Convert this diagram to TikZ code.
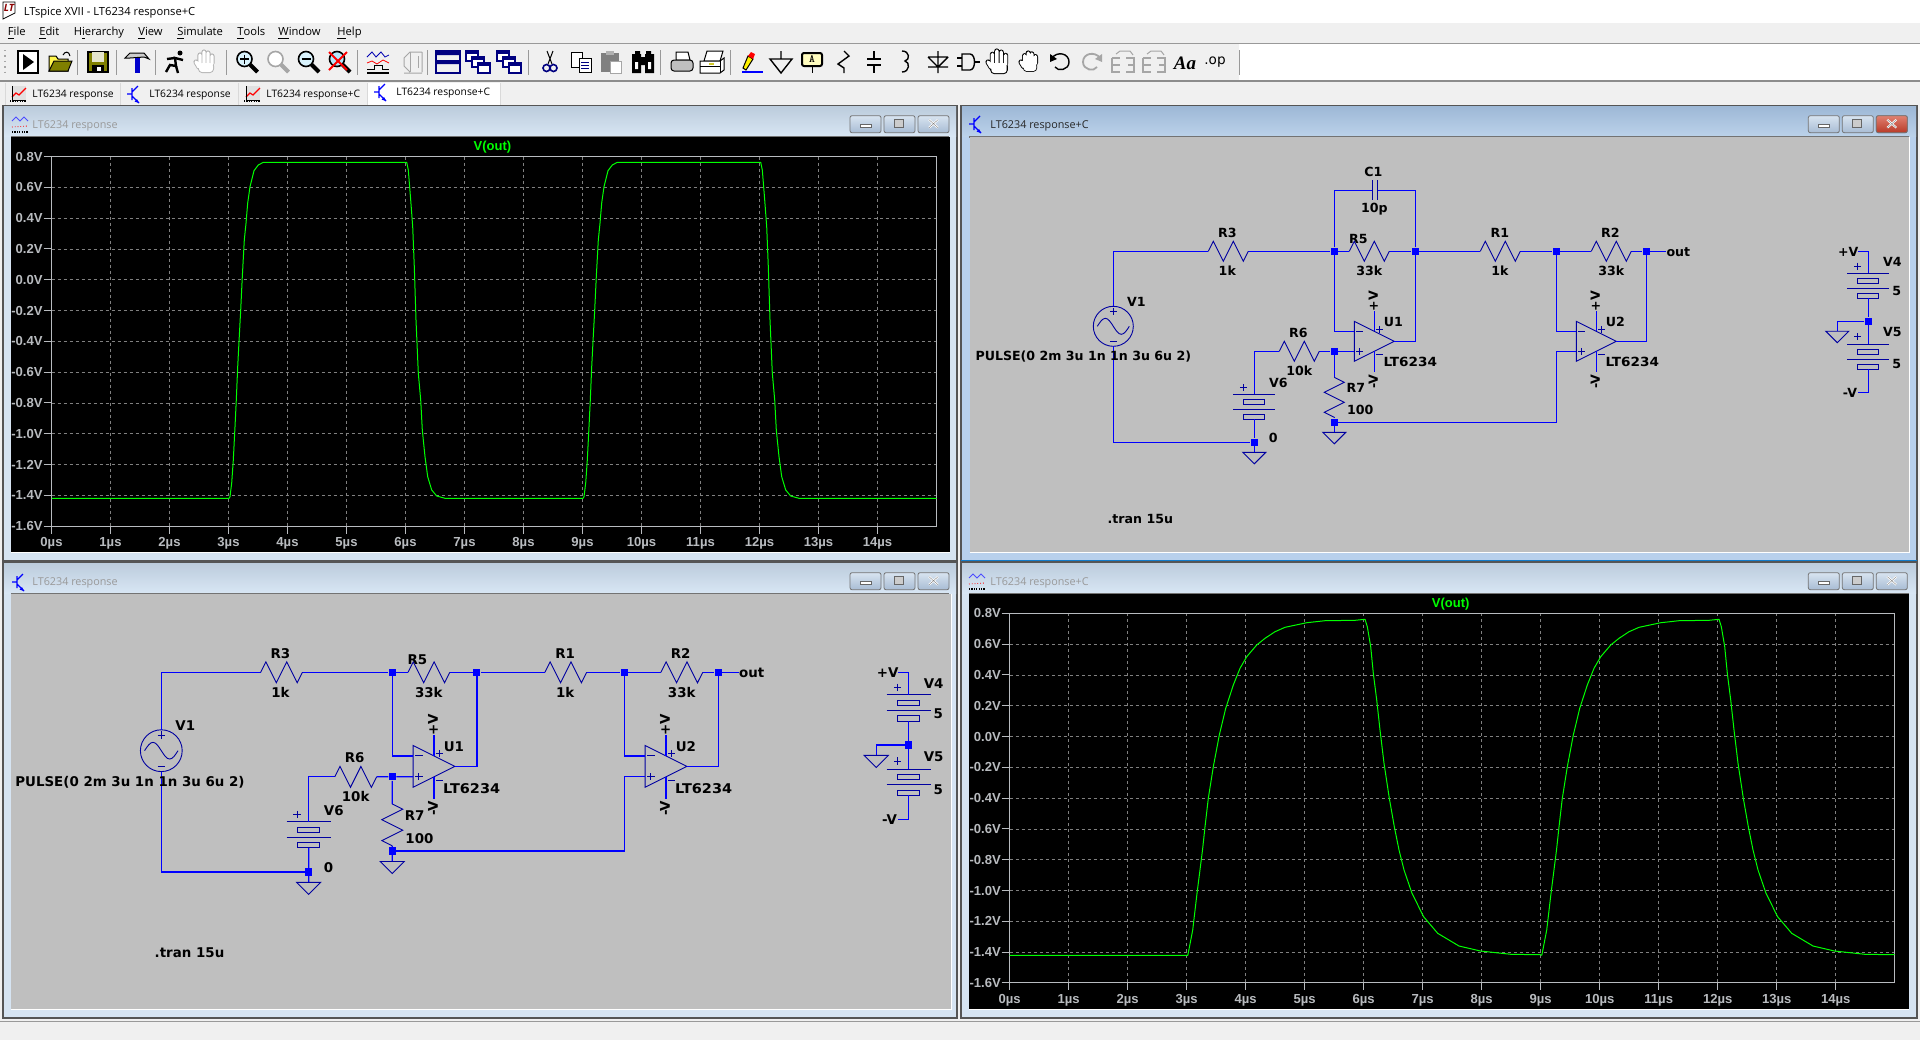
\documentclass[tikz,border=0pt]{standalone}
\usepackage{fontspec}
\setmainfont{Open Sans}
\newfontfamily\schfont{DejaVu Sans}
\newfontfamily\axisfont{Liberation Sans}
\newfontfamily\serifui{Liberation Serif}
\definecolor{wireblue}{HTML}{0000FF}
\definecolor{partblue}{HTML}{0000A0}
\definecolor{schgrey}{HTML}{BFBFBF}
\definecolor{axisgrey}{HTML}{B8BBBF}
\definecolor{barback}{HTML}{F0F0F0}
\definecolor{tracegreen}{HTML}{00FF00}
\definecolor{winedge}{HTML}{555555}
\definecolor{iconolive}{HTML}{808000}
\definecolor{idletop}{HTML}{BCCCDC}
\definecolor{idlebot}{HTML}{D8E6F4}
\definecolor{idleside}{HTML}{D6E4F2}
\definecolor{livetop}{HTML}{9DB8D6}
\definecolor{livebot}{HTML}{BCD2EA}
\definecolor{liveside}{HTML}{B8D0EC}
\definecolor{btntop}{HTML}{D8E4F0}
\definecolor{btnbot}{HTML}{A8BCD4}
\definecolor{closetop}{HTML}{E08070}
\definecolor{closebot}{HTML}{B83A28}
\newcommand{\schsize}{6.3}
\tikzset{
  wire/.style={wireblue,line width=0.6pt},
  part/.style={partblue,line width=0.45pt},
  dot/.style={rectangle,fill=wireblue,minimum size=3.6pt,inner sep=0pt},
  lbl/.style={inner sep=0pt,font=\schfont\bfseries\fontsize{\schsize}{\schsize}\selectfont},
  axlbl/.style={inner sep=0pt,text=axisgrey,font=\axisfont\bfseries\fontsize{6.55}{7}\selectfont},
  axline/.style={color=axisgrey,line width=0.5pt},
  griddash/.style={color=black!50,line width=0.4pt,dash pattern=on 1.5pt off 1.5pt},
  trace/.style={tracegreen,line width=0.5pt,line join=round},
  uitext/.style={inner sep=0pt,anchor=west,font=\fontsize{5.6}{7}\selectfont},
  tabtext/.style={inner sep=0pt,anchor=west,font=\fontsize{5.15}{7}\selectfont},
  wintext/.style={inner sep=0pt,anchor=west,font=\fontsize{5.4}{7}\selectfont},
  btn/.style={draw=black!55,line width=0.4pt,rounded corners=1pt},
  sep/.style={color=black!40,line width=0.5pt},
  ic/.style={line width=0.5pt,draw=black},
  icgrey/.style={line width=0.5pt,draw=black!35},
}
% one schematic pane, coordinates are screen pixels from the V1 wire
\newcommand{\zigh}[2]{\draw [part] (#1) -- ++(5,-10) -- ++(10,20) -- ++(10,-20) -- ++(10,20) -- (#2);}
\newcommand{\gndsym}[1]{\draw [part] (#1) -- ++(-11.5,0) -- ++(11.5,11.5) -- ++(11.5,-11.5) -- cycle;}
\newcommand{\plussym}[2]{\draw [part] (#1-3.5,#2) -- (#1+3.5,#2) (#1,#2-3.5) -- (#1,#2+3.5);}
\newcommand{\minussym}[2]{\draw [part] (#1-3.5,#2) -- (#1+3.5,#2);}
\newcommand{\batt}[3]{%
\begin{scope}[shift={(#2,#3)}]
\coordinate (#1top) at (0,0);
\coordinate (#1bot) at (0,25);
\draw [part] (-21,0) -- (21,0) (-21,15) -- (21,15);
\draw [part] (-10.5,5) rectangle (10.5,10) (-10.5,20) rectangle (10.5,25);
\end{scope}}
\newcommand{\opamp}[3]{%
\begin{scope}[shift={(#2,0)}]
\coordinate (#1in) at (0,80);
\coordinate (#1ip) at (0,100);
\coordinate (#1o) at (40,90);
\coordinate (#1pa) at (20,60);
\coordinate (#1pb) at (20,80);
\coordinate (#1na) at (20,100);
\coordinate (#1nb) at (20,121);
\draw [part] (0,70) -- (0,110) -- (#1o) -- cycle;
\draw [wire] (#1pa) -- (#1pb);
\draw [wire] (#1na) -- (#1nb);
\minussym{5.5}{80}
\plussym{5.5}{100}
\plussym{25.5}{78}
\minussym{25.5}{103}
\node [lbl] (#1name) at (39,71) {#3};
\node [lbl] (#1type) at (56,111) {\scalebox{1.08}[1]{LT6234}};
\node [lbl,rotate=90] (#1vp) at (19,50) {+V};
\node [lbl,rotate=90] (#1vn) at (19,130) {-V};
\end{scope}}
\newcommand{\schem}[5]{%
\renewcommand{\schsize}{#5}
\begin{scope}[shift={(#2,#3)},scale=#4]
\coordinate (#1v1top) at (0,55);
\coordinate (#1v1bot) at (0,95);
\coordinate (#1r3a) at (95,0);
\coordinate (#1r3b) at (135,0);
\coordinate (#1r5a) at (236,0);
\coordinate (#1r5b) at (276,0);
\coordinate (#1r1a) at (367,0);
\coordinate (#1r1b) at (407,0);
\coordinate (#1r2a) at (478,0);
\coordinate (#1r2b) at (518,0);
\coordinate (#1r6a) at (166,100);
\coordinate (#1r6b) at (206,100);
\coordinate (#1r7a) at (221,126);
\coordinate (#1r7b) at (221,166);
\coordinate (#1g1) at (141,201);
\coordinate (#1g2) at (221,181);
\coordinate (#1jog) at (443,100);
\coordinate (#1outend) at (553,0);
\node [dot] (#1j1) at (221,0) {};
\node [dot] (#1j2) at (302,0) {};
\node [dot] (#1j3) at (221,100) {};
\node [dot] (#1j4) at (221,171) {};
\node [dot] (#1j5) at (443,0) {};
\node [dot] (#1j6) at (533,0) {};
\node [dot] (#1j7) at (141,191) {};
\draw [part] (0,75) circle [radius=20];
\draw [part] (-16,75) sin (-8,67) cos (0,75) sin (8,83) cos (16,75);
\plussym{0}{60}
\minussym{0}{90}
\batt{#1v6}{141}{143}
\draw [wire] (#1v1top) |- (#1r3a);
\draw [wire] (#1r3b) -- (#1j1);
\draw [wire] (#1j1) -- (#1r5a);
\draw [wire] (#1r5b) -- (#1j2);
\draw [wire] (#1j2) -- (#1r1a);
\draw [wire] (#1r1b) -- (#1j5);
\draw [wire] (#1j5) -- (#1r2a);
\draw [wire] (#1r2b) -- (#1j6);
\draw [wire] (#1j6) -- (#1outend);
\draw [wire] (#1v1bot) |- (#1j7);
\draw [wire] (#1v6bot) -- (#1j7);
\draw [wire] (#1j7) -- (#1g1);
\draw [wire] (#1r6a) -| (#1v6top);
\draw [wire] (#1r6b) -- (#1j3);
\draw [wire] (#1j3) -- (#1r7a);
\draw [wire] (#1r7b) -- (#1j4);
\draw [wire] (#1j4) -- (#1g2);
\zigh{#1r3a}{#1r3b}
\zigh{#1r5a}{#1r5b}
\zigh{#1r1a}{#1r1b}
\zigh{#1r2a}{#1r2b}
\zigh{#1r6a}{#1r6b}
\draw [part] (#1r7a) -- ++(10,5) -- ++(-20,10) -- ++(20,10) -- ++(-20,10) -- (#1r7b);
\gndsym{#1g1}
\gndsym{#1g2}
\plussym{130}{136}
\opamp{#1ua}{241}{U1}
\opamp{#1ub}{463}{U2}
\draw [wire] (#1j1) |- (#1uain);
\draw [wire] (#1j3) -- (#1uaip);
\draw [wire] (#1uao) -| (#1j2);
\draw [wire] (#1j5) |- (#1ubin);
\draw [wire] (#1j4) -| (#1jog);
\draw [wire] (#1jog) -- (#1ubip);
\draw [wire] (#1ubo) -| (#1j6);
\node [lbl] (#1lr3) at (114,-18) {R3};
\node [lbl] (#1l1ka) at (114,19) {1k};
\node [lbl] (#1lr5) at (245,-12) {R5};
\node [lbl] (#1l33a) at (256,19) {33k};
\node [lbl] (#1lr1) at (386.5,-18) {R1};
\node [lbl] (#1l1kb) at (386.5,19) {1k};
\node [lbl] (#1lr2) at (497,-18) {R2};
\node [lbl] (#1l33b) at (498,19) {33k};
\node [lbl] (#1lout) at (565,0.5) {out};
\node [lbl] (#1lv1) at (23,51) {V1};
\node [lbl] (#1lpulse) at (-30,105.7) {PULSE(0 2m 3u 1n 1n 3u 6u 2)};
\node [lbl] (#1lr6) at (185,82) {R6};
\node [lbl] (#1l10k) at (186,119) {10k};
\node [lbl] (#1lv6) at (165,132) {V6};
\node [lbl] (#1lr7) at (242.5,137) {R7};
\node [lbl] (#1l100) at (247,159) {100};
\node [lbl] (#1lzero) at (160,187) {0};
\node [lbl] (#1ltran) at (27,268) {.tran 15u};
\end{scope}}
% the +V / -V supply stack
\newcommand{\supply}[4]{%
\begin{scope}[shift={(#2,#3)},scale=#4]
\coordinate (#1pe) at (-10.3,0);
\coordinate (#1ne) at (-10.3,140.6);
\coordinate (#1g) at (-31,79.5);
\node [dot] (#1j) at (0,69.6) {};
\batt{#1va}{0}{21.6}
\batt{#1vb}{0}{92.6}
\draw [wire] (#1pe) -| (#1vatop);
\draw [wire] (#1vabot) -- (#1j);
\draw [wire] (#1j) -- (#1vbtop);
\draw [wire] (#1vbbot) |- (#1ne);
\draw [wire] (#1j) -| (#1g);
\gndsym{#1g}
\plussym{-10.6}{14.3}
\plussym{-10.6}{85}
\node [lbl] (#1lp) at (-20,0.6) {+V};
\node [lbl] (#1ln) at (-18.3,141.3) {-V};
\node [lbl] (#1lva) at (24,10.6) {V4};
\node [lbl] (#1lvb) at (24,80.3) {V5};
\node [lbl] (#1lfa) at (28.4,39.3) {5};
\node [lbl] (#1lfb) at (28.4,112.3) {5};
\end{scope}}
% grid and axis text of a waveform pane
\newcommand{\plotgrid}[3]{%
\foreach \n in {1,...,14}
  \draw [griddash] ({#2+\n*59},#3) -- ({#2+\n*59},#3+369.6);
\foreach \n in {1,...,11}
  \draw [griddash] (#2,{#3+\n*30.8}) -- (#2+885,{#3+\n*30.8});
\draw [axline] (#2,#3) rectangle (#2+885,#3+369.6);
\foreach \yl [count=\n from 0] in {0.8V,0.6V,0.4V,0.2V,0.0V,-0.2V,-0.4V,-0.6V,-0.8V,-1.0V,-1.2V,-1.4V,-1.6V}{
  \draw [axline] (#2-8,{#3+\n*30.8}) -- (#2,{#3+\n*30.8});
  \node [axlbl,anchor=east] (#1y\n) at (#2-8.5,{#3+\n*30.8}) {\yl};
}
\foreach \n in {0,...,14}{
  \draw [axline] ({#2+\n*59},#3+369.6) -- ({#2+\n*59},#3+377);
  \node [axlbl] (#1x\n) at ({#2+\n*59},#3+387) {\n µs};
}
\node [inner sep=0pt,text=tracegreen,font=\axisfont\bfseries\fontsize{6.5}{7}\selectfont] (#1name) at (#2+441,#3-9.5) {V(out)};}
% window frame: x0,y0,x1,y1,title top,title bottom,side
\newcommand{\mdiwin}[7]{%
\draw [winedge,line width=0.6pt,fill=#7] (#1,#2) rectangle (#3,#4);
\shade [top color=#5,bottom color=#6] (#1+1,#2+1) rectangle (#3-1,#2+31);
\draw [color=black!55,line width=0.6pt] (#1+8,#2+31.5) -- (#3-8,#2+31.5);}
\newcommand{\winbtns}[2]{%
\foreach \bx in {0,34,68}
  \shade [btn,top color=btntop,bottom color=btnbot] (#1+\bx,#2) rectangle (#1+\bx+31,#2+17);}
\newcommand{\btnglyphs}[2]{%
\draw [draw=black!60,fill=white,line width=0.4pt] (#1+10,#2+9) rectangle (#1+21,#2+12);
\draw [draw=black!60,fill=white!80!black,line width=0.5pt] (#1+44,#2+4) rectangle (#1+53,#2+12);
\draw [white,line width=1pt] (#1+79,#2+4) -- (#1+88,#2+12) (#1+79,#2+12) -- (#1+88,#2+4);
\draw [black!50,line width=0.2pt] (#1+79,#2+4) -- (#1+88,#2+12) (#1+79,#2+12) -- (#1+88,#2+4);}
\newcommand{\transicon}[2]{%
\begin{scope}[shift={(#1,#2)}]
\draw [wireblue,line width=0.6pt] (-8,0) -- (-3,0) (-3,-6) -- (-3,6) (-3,-2) -- (3,-8) (-3,2) -- (4,9);
\fill [wireblue] (4,9) -- (-0.5,7.5) -- (2,5) -- cycle;
\end{scope}}
\newcommand{\waveicon}[2]{%
\begin{scope}[shift={(#1,#2)}]
\draw [blue!70!white,line width=0.4pt] (-8,-3) -- (-4,-7) -- (0,-3) -- (4,-7) -- (8,-3);
\draw [red,line width=0.4pt,densely dotted] (-8,3) -- (8,2);
\draw [black,line width=0.9pt,dash pattern=on 0.6pt off 0.6pt] (-8,8) -- (8,8);
\end{scope}}
\newcommand{\tabwave}[2]{%
\begin{scope}[shift={(#1,#2)}]
\fill [black!12] (-6,-8) rectangle (8,6);
\draw [red,line width=0.6pt] (-6,3) -- (-2,-1) -- (1,1) -- (8,-6);
\draw [black,line width=0.5pt] (-6,-8) -- (-6,6) -- (8,6);
\draw [black,line width=0.9pt,dash pattern=on 0.6pt off 0.6pt] (-8,7) -- (8,7);
\end{scope}}
\newcommand{\lens}[2]{%
\draw [#1,line width=0.8pt,fill=#2] (-2,-3) circle [radius=7.5];
\draw [#1,line width=2pt] (3.5,2.5) -- (11,10);}
\newcommand{\handicon}[1]{%
\draw [#1,line width=2.6pt,line cap=round] (-6,1) -- (-6,-7) (-2,1) -- (-2,-10) (2,1) -- (2,-9) (6,1) -- (6,-6) (-7,5) -- (-10,0);
\fill [#1,rounded corners=2pt] (-8,0) rectangle (8,11);
\draw [white,line width=1.7pt,line cap=round] (-6,2) -- (-6,-7) (-2,2) -- (-2,-10) (2,2) -- (2,-9) (6,2) -- (6,-6) (-7,5) -- (-10,0);
\fill [white,rounded corners=1.5pt] (-7,1) rectangle (7,10);}
\begin{document}
\begin{tikzpicture}[x=0.5pt,y=-0.5pt]
\useasboundingbox (0,0) rectangle (1920,1040);
\fill [barback] (0,0) rectangle (1920,1040);
\fill [white] (0,0) rectangle (1920,22.5);
\fill [white] (1239,44) rectangle (1920,80.5);
\draw [color=black!40,line width=0.5pt] (0,43.5) -- (1920,43.5);
\draw [color=black!45,line width=0.7pt] (0,81) -- (1920,81);
\draw [color=black!40,line width=0.4pt] (0,1021) -- (1920,1021);
% title bar
\draw [black,fill=white,line width=0.4pt] (3,2) -- (15,2) -- (15,13) -- (3,19) -- cycle;
\node [inner sep=0pt,text=red!55!black,font=\bfseries\itshape\fontsize{5}{5}\selectfont] (applogo) at (9,8) {LT};
\node [uitext] (apptitle) at (23.5,12.5) {LTspice XVII - LT6234 response+C};
% menu
\foreach \mx/\mt [count=\mi] in {7.5/{\underline{F}ile},39/{\underline{E}dit},73.5/{H\underline{i}erarchy},138/{\underline{V}iew},177/{\underline{S}imulate},237/{\underline{T}ools},278/{\underline{W}indow},337/{\underline{H}elp}}
  \node [uitext] (menu\mi) at (\mx,33) {\mt};
% toolbar
\draw [color=black!35,line width=0.7pt,dotted] (5,50) -- (5,76);
\foreach \sx in {77.5,116,155.5,226,357,427,528.5,660,730.5,1239}
  \draw [sep] (\sx,50) -- (\sx,75);
\begin{scope}[shift={(28,62)}]
\draw [ic,fill=white,line width=0.7pt] (-10,-11) rectangle (10,11);
\fill [black] (-5,-8) -- (6,0) -- (-5,8) -- cycle;
\end{scope}
\begin{scope}[shift={(60,62)}]
\draw [ic,fill=yellow!70!white] (-11,9) -- (-11,-6) -- (-4,-6) -- (-2,-3) -- (8,-3) -- (8,9) -- cycle;
\draw [ic,fill=iconolive] (-11,9) -- (-6,-1) -- (12,-1) -- (8,9) -- cycle;
\draw [ic] (3,-7) .. controls (5,-11) and (9,-11) .. (10,-6);
\end{scope}
\begin{scope}[shift={(98,62)}]
\draw [ic,fill=iconolive,line width=0.7pt] (-10,-10) rectangle (10,10);
\fill [white!80!iconolive] (-6,-10) rectangle (6,0);
\fill [black] (-6,3) rectangle (6,10);
\fill [white] (-1,5) rectangle (3,9);
\end{scope}
\begin{scope}[shift={(137,62)}]
\draw [ic,fill=white!80!black] (-12,-4) -- (-7,-9) -- (7,-9) -- (12,-3) -- (7,-5) -- (-7,-4) -- cycle;
\fill [blue!80!black] (-2.5,-4) rectangle (2.5,11);
\end{scope}
\begin{scope}[shift={(175,62)}]
\draw [black,line width=1.2pt] (-9,10) -- (-5,3) -- (1,4) -- (0,-4) -- (8,-2);
\draw [black,line width=1.2pt] (1,4) -- (3,11) (0,-4) -- (-8,-3);
\fill [black] (5,-9) circle [radius=2.5];
\end{scope}
\begin{scope}[shift={(206,62)}]
\handicon{black!30}
\end{scope}
\begin{scope}[shift={(246.5,62)}]
\lens{black}{cyan!15}
\draw [black,line width=0.9pt] (-6.5,-3) -- (2.5,-3) (-2,-7.5) -- (-2,1.5);
\end{scope}
\begin{scope}[shift={(277.5,62)}]
\lens{black!35}{white}
\end{scope}
\begin{scope}[shift={(308,62)}]
\lens{black}{cyan!15}
\draw [black,line width=0.9pt] (-6.5,-3) -- (2.5,-3);
\end{scope}
\begin{scope}[shift={(339,62)}]
\lens{black}{cyan!30}
\draw [red,line width=0.9pt] (-10,-10) -- (8,8) (8,-10) -- (-10,8);
\end{scope}
\begin{scope}[shift={(378,62)}]
\draw [blue!70!black,line width=0.4pt] (-11,-5) -- (-6,-10) -- (-2,-5) -- (3,-10) -- (7,-5) -- (11,-7);
\draw [red,line width=0.4pt] (-11,1) -- (-6,-1) -- (-1,2) -- (5,-2) -- (11,1);
\draw [black,line width=0.5pt] (-11,7) -- (-4,7) -- (-4,3) -- (4,3) -- (4,7) -- (11,7);
\draw [black,line width=0.8pt] (-11,11) -- (11,11);
\end{scope}
\begin{scope}[shift={(413,62)}]
\draw [icgrey] (-9,11) -- (9,11) (-9,-4) -- (-3,-10) -- (9,-10) (-9,-4) -- (-9,4) -- (-3,10) (9,-10) -- (9,10);
\draw [icgrey] (-3,-10) -- (-3,10) (5,-6) -- (5,6);
\end{scope}
\begin{scope}[shift={(448,62)}]
\draw [color=blue!50!black,line width=0.9pt] (-12,-11) rectangle (12,11);
\fill [blue!50!black] (-12,-11) rectangle (12,-7) (-12,-2) rectangle (12,2);
\end{scope}
\foreach \ax in {478,509}{
\begin{scope}[shift={(\ax,62)}]
\foreach \dd in {0,1,2}{
\draw [color=blue!50!black,fill=white,line width=0.6pt] (-12+\dd*6,-11+\dd*6) rectangle (0+\dd*6,-1+\dd*6);
\fill [blue!50!black] (-12+\dd*6,-11+\dd*6) rectangle (0+\dd*6,-8+\dd*6);
}
\end{scope}}
\begin{scope}[shift={(550,62)}]
\draw [ic] (-3,-11) -- (2,2) (3,-11) -- (-2,2);
\draw [color=blue!50!black,line width=0.8pt] (-3.5,6) circle [radius=3.5] (3.5,6) circle [radius=3.5];
\end{scope}
\begin{scope}[shift={(581,62)}]
\draw [ic,fill=white] (-10,-10) rectangle (1,5);
\draw [ic,fill=white] (-2,-4) rectangle (10,10);
\draw [color=blue!50!black,line width=0.4pt] (0,0) -- (8,0) (0,3) -- (8,3) (0,6) -- (8,6);
\end{scope}
\begin{scope}[shift={(611,62)}]
\fill [black!50] (-10,-9) rectangle (8,10);
\fill [black!30] (-5,-11) rectangle (3,-7);
\draw [icgrey,fill=white] (-1,-1) rectangle (10,11);
\end{scope}
\begin{scope}[shift={(643,62)}]
\fill [black] (-11,-8) rectangle (-2,11) (2,-8) rectangle (11,11);
\fill [black] (-8,-11) rectangle (-3,-6) (3,-11) rectangle (8,-6) (-2,-5) rectangle (2,3);
\fill [white] (-8,0) rectangle (-5,7) (5,0) rectangle (8,7);
\end{scope}
\begin{scope}[shift={(682,62)}]
\draw [ic,fill=white] (-6,-10) -- (6,-10) -- (8,-2) -- (-6,-2) -- cycle;
\draw [ic,fill=black!25,rounded corners=1.5pt] (-11,-2) rectangle (11,9);
\end{scope}
\begin{scope}[shift={(712,62)}]
\draw [ic,fill=white] (-5,-11) -- (11,-11) -- (8,-1) -- (-8,-1) -- cycle;
\draw [ic,fill=white] (-12,-1) -- (8,-1) -- (12,-4) -- (12,8) -- (8,11) -- (-12,11) -- cycle;
\draw [ic] (-12,4) -- (8,4) (8,-1) -- (8,11);
\fill [yellow!80!black] (-3,1) rectangle (2,3);
\end{scope}
\begin{scope}[shift={(752,62)}]
\draw [color=blue,line width=0.6pt] (-10,10) -- (11,10);
\draw [ic,fill=yellow] (-9,6) -- (-4,-6) -- (1,-3) -- (-6,8) -- cycle;
\fill [red] (-4,-6) -- (1,-3) -- (3,-8) -- (-1,-10) -- cycle;
\end{scope}
\begin{scope}[shift={(781,62)}]
\draw [ic,line width=0.7pt] (0,-11) -- (0,-3) (-11,-3) -- (11,-3) -- (0,11) -- cycle;
\end{scope}
\begin{scope}[shift={(812,62)}]
\draw [ic,fill=yellow!25!white,line width=1pt,rounded corners=1pt] (-10,-9) rectangle (10,4);
\draw [ic] (0,4) -- (0,11);
\node [inner sep=0pt,font=\ttfamily\bfseries\fontsize{5.5}{6}\selectfont] (icona) at (0,-2.5) {A};
\end{scope}
\begin{scope}[shift={(844,62)}]
\draw [ic,line width=0.7pt] (0,-11) -- (5,-6) -- (-6,2) -- (0,6) -- (0,11);
\end{scope}
\begin{scope}[shift={(874,62)}]
\draw [ic,line width=1pt] (0,-11) -- (0,-3) (-7,-3) -- (7,-3) (-7,3) -- (7,3) (0,3) -- (0,11);
\end{scope}
\begin{scope}[shift={(905,62)}]
\draw [ic,line width=0.7pt] (-3,-11) .. controls (5,-11) and (5,-2) .. (0,-1) .. controls (5,0) and (5,10) .. (-3,10);
\end{scope}
\begin{scope}[shift={(938,62)}]
\draw [ic,line width=0.7pt] (0,-11) -- (0,11) (-10,-5) -- (10,-5) (-10,-5) -- (0,5) -- (10,-5) (-10,5) -- (10,5);
\end{scope}
\begin{scope}[shift={(968,62)}]
\draw [ic,line width=0.7pt] (-6,-8) -- (2,-8) .. controls (8,-8) and (8,8) .. (2,8) -- (-6,8) -- cycle;
\draw [ic,line width=0.7pt] (-11,-4) -- (-6,-4) (-11,4) -- (-6,4) (7,0) -- (12,0);
\end{scope}
\begin{scope}[shift={(999,62)},scale=1.1]
\handicon{black}
\end{scope}
\begin{scope}[shift={(1030,62)},scale=0.9]
\handicon{black}
\end{scope}
\begin{scope}[shift={(1060,62)}]
\draw [ic,line width=0.7pt] (-8,-4) .. controls (-3,-11) and (9,-9) .. (9,0) .. controls (9,8) and (-2,10) .. (-5,5);
\fill [black] (-10,-8) -- (-3,-3) -- (-10,0) -- cycle;
\end{scope}
\begin{scope}[shift={(1092,62)}]
\draw [icgrey,line width=0.9pt] (8,-4) .. controls (3,-11) and (-9,-9) .. (-9,0) .. controls (-9,8) and (2,10) .. (5,5);
\fill [black!35] (10,-8) -- (3,-3) -- (10,0) -- cycle;
\end{scope}
\foreach \ex in {1123,1154}{
\begin{scope}[shift={(\ex,62)}]
\draw [icgrey,line width=1.2pt] (-11,-4) -- (-3,-4) (-11,-4) -- (-11,10) -- (-3,10) (-11,3) -- (-3,3);
\draw [icgrey,line width=1.2pt] (3,-4) -- (11,-4) -- (11,10) -- (3,10) (5,3) -- (11,3);
\draw [icgrey] (-7,-8) -- (-3,-11) -- (7,-11) -- (10,-7);
\end{scope}}
\node [inner sep=0pt,font=\serifui\bfseries\itshape\fontsize{9.5}{9}\selectfont] (iconaa) at (1185,63) {Aa};
\node [inner sep=0pt,font=\schfont\fontsize{6.8}{6}\selectfont] (iconop) at (1215,62) {.op};
% tabs
\fill [white] (367,83) rectangle (500,105);
\foreach \tx in {5,120,238,367,500}
  \draw [color=black!15,line width=0.5pt] (\tx,83) -- (\tx,105);
\tabwave{18}{94}
\transicon{135}{94}
\tabwave{252}{94}
\transicon{382}{92}
\node [tabtext] (taba) at (32,95) {LT6234 response};
\node [tabtext] (tabb) at (149,95) {LT6234 response};
\node [tabtext] (tabc) at (266,95) {LT6234 response+C};
\node [tabtext] (tabd) at (396,93) {LT6234 response+C};
% pane top left
\mdiwin{3}{105.5}{957}{561}{idletop}{idlebot}{idleside}
\fill [black] (11,137) rectangle (950,552);
\draw [white,line width=0.5pt] (11,552.5) -- (950,552.5);
\plotgrid{wa}{51.5}{156.5}
\node [wintext,text=black!40] (watitle) at (32,125.5) {LT6234 response};
\waveicon{20}{124}
\winbtns{850}{115.7}
\btnglyphs{850}{115.7}
\newcommand{\pulsea}{-- (230,496.7) -- (231.7,483) -- (233.3,460) -- (235,426.7) -- (236.3,400) -- (237.7,366.7) -- (239,341.7) -- (240.7,310) -- (242.3,276.7) -- (244.3,240) -- (246,223.3) -- (247.7,203) -- (250,186.7) -- (254,170.7) -- (258.3,165) -- (263.3,162.3) -- (406.7,162.3) -- (408.3,170) -- (410.7,200) -- (412.7,226.7) -- (414.3,266.7) -- (416,320) -- (418.3,373) -- (420.7,400) -- (422.3,430) -- (425,456.7) -- (427.7,476.7) -- (431.7,490) -- (436.7,496) -- (445,498.3)}
\draw [trace] (51.5,498.3) -- (229,498.3) \pulsea -- (583,498.3);
\draw [trace,xshift=177pt] (229,498.3) \pulsea -- (582.5,498.3);
% pane top right, the active one
\mdiwin{961}{105.5}{1917}{561}{livetop}{livebot}{liveside}
\fill [schgrey] (969.5,137) rectangle (1909,552.3);
\draw [white,line width=0.5pt] (969.5,552.8) -- (1909,552.8) (1909.5,137) -- (1909.5,552.8);
\draw [color=cyan!60!blue,line width=0.6pt] (961,561) -- (1917,561);
\node [wintext,text=black!85] (wbtitle) at (990,125.5) {LT6234 response+C};
\transicon{977}{124}
\winbtns{1808.3}{115.7}
\shade [btn,top color=closetop,bottom color=closebot] (1876.3,115.7) rectangle (1907.3,132.7);
\btnglyphs{1808.3}{115.7}
\schem{tp}{1113.3}{251.3}{1}{6.3}
\supply{ts}{1868.3}{251.7}{1}
\begin{scope}[shift={(1113.3,251.3)}]
\coordinate (cap1) at (259.5,-61);
\coordinate (cap2) at (264.5,-61);
\draw [wire] (tpj1) |- (cap1);
\draw [wire] (tpj2) |- (cap2);
\draw [part] (259.5,-71) -- (259.5,-51) (264.5,-71) -- (264.5,-51);
\node [lbl] (lc1) at (260,-79) {C1};
\node [lbl] (l10p) at (261,-42) {10p};
\end{scope}
% pane bottom left
\mdiwin{3}{562}{957}{1018}{idletop}{idlebot}{idleside}
\fill [schgrey] (11,594) rectangle (951,1009);
\draw [white,line width=0.5pt] (11,1009.5) -- (951,1009.5) (951.5,594) -- (951.5,1009.5);
\node [wintext,text=black!40] (wctitle) at (32,582.5) {LT6234 response};
\transicon{20}{582}
\winbtns{850}{572.7}
\btnglyphs{850}{572.7}
\schem{bt}{161.3}{672.3}{1.045}{6.7}
\supply{bs}{908.6}{672.3}{1.045}
% pane bottom right
\mdiwin{961}{562}{1917}{1018}{idletop}{idlebot}{idleside}
\fill [black] (969,594) rectangle (1909,1009.3);
\draw [white,line width=0.5pt] (969,1009.8) -- (1909,1009.8);
\plotgrid{wd}{1009.7}{613.3}
\node [wintext,text=black!40] (wdtitle) at (990,582.5) {LT6234 response+C};
\waveicon{977}{581}
\winbtns{1808.3}{572.7}
\btnglyphs{1808.3}{572.7}
\newcommand{\pulseb}{-- (1192.7,930) -- (1197,893.3) -- (1202.5,850) -- (1205,826.7) -- (1208.3,798.3) -- (1213.3,766.7) -- (1219.3,735) -- (1225.7,708.3) -- (1233.3,685) -- (1240,668.3) -- (1246.7,656.7) -- (1256.7,645) -- (1265,638.3) -- (1275,631.7) -- (1285,627.3) -- (1306.7,622.7) -- (1325,620.7) -- (1355,620.3) -- (1365,619.3) -- (1367.3,626.7) -- (1370.7,646.7) -- (1373.3,673.3) -- (1376.7,700) -- (1380,730) -- (1384,763.3) -- (1389.3,798.3) -- (1394.3,826.7) -- (1399,850) -- (1404,870) -- (1412,893.3) -- (1423.6,916.7) -- (1437.7,933.3) -- (1459,946) -- (1480.5,951) -- (1511,954.3) -- (1540.5,954.7)}
\draw [trace] (1009.7,955.3) -- (1187.8,955.3) \pulseb -- (1541.8,955.3);
\draw [trace,xshift=177pt] (1187.8,955.3) \pulseb;
\end{tikzpicture}
\end{document}
